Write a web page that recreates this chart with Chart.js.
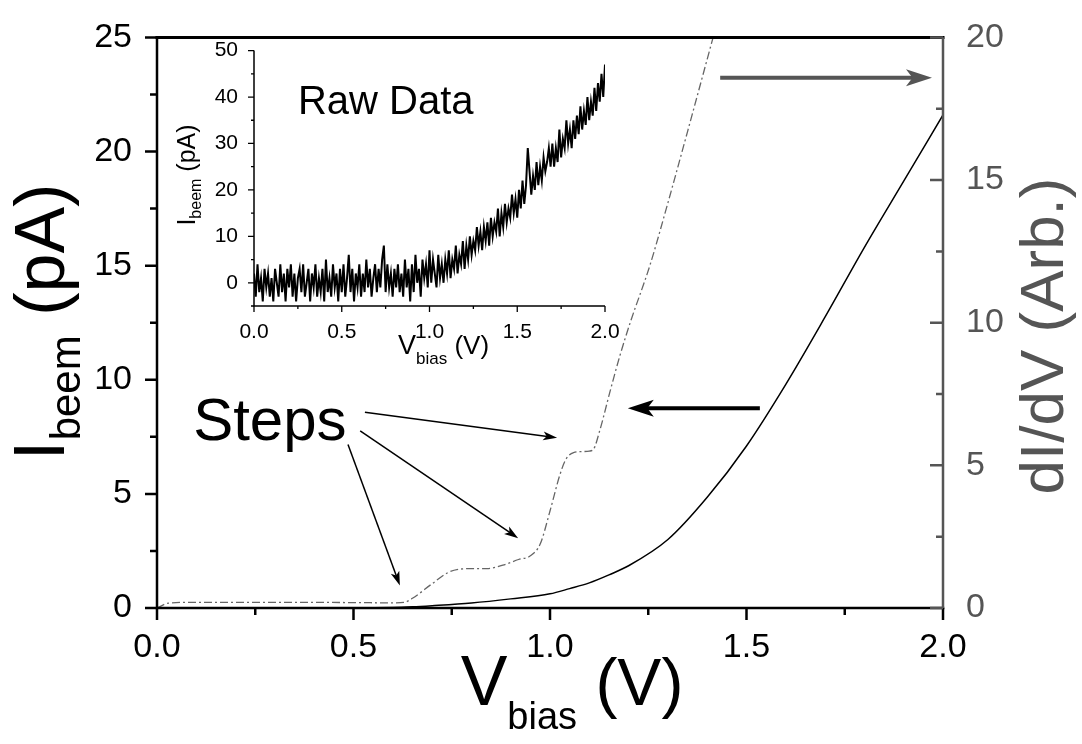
<!DOCTYPE html>
<html>
<head>
<meta charset="utf-8">
<title>BEEM spectrum</title>
<script src="https://cdn.jsdelivr.net/npm/chart.js@4.4.1/dist/chart.umd.min.js"></script>
<style>
  body { margin: 0; background: #fff; }
  #wrap { position: relative; width: 1082px; height: 744px; background: #fff; }
  canvas { position: absolute; }
</style>
</head>
<body>
<div id="wrap">
  <canvas id="mainChart" width="1082" height="744" style="left:0;top:0"></canvas>
  <canvas id="insetChart" width="470" height="350" style="left:160px;top:30px"></canvas>
</div>
<script>
const FONT = '"Liberation Sans", Arial, Helvetica, sans-serif';
Chart.defaults.font.family = FONT;
Chart.defaults.color = '#000';

// Averaged BEEM current (left axis, pA)
const vbias = [0, 0.1, 0.2, 0.3, 0.4, 0.5, 0.6, 0.65, 0.7, 0.8, 0.9, 1.0, 1.05, 1.1, 1.15, 1.2, 1.3, 1.4, 1.5, 1.6, 1.7, 1.8, 1.9, 2.0];
const ibeem = [0, 0, 0, 0, 0, 0.01, 0.02, 0.05, 0.1, 0.22, 0.4, 0.62, 0.85, 1.1, 1.45, 1.85, 3.0, 4.85, 7.1, 9.8, 12.75, 15.8, 18.7, 21.6];

// dI/dV (right axis, arb.)
const vDeriv = [0, 0.03, 0.1, 0.3, 0.5, 0.6, 0.63, 0.65, 0.7, 0.74, 0.77, 0.8, 0.84, 0.88, 0.92, 0.95, 0.975, 1.0, 1.025, 1.04, 1.06, 1.08, 1.1, 1.11, 1.127, 1.153, 1.178, 1.204, 1.254, 1.3, 1.35, 1.415];
const dIdV = [0, 0.17, 0.2, 0.2, 0.19, 0.18, 0.2, 0.34, 0.85, 1.24, 1.36, 1.38, 1.38, 1.5, 1.7, 1.83, 2.24, 3.4, 4.66, 5.2, 5.45, 5.48, 5.5, 5.55, 6.24, 7.6, 8.85, 10.0, 12.0, 14.2, 16.7, 20.0];

// Inset raw trace, one sample every 10 mV from 0 to 2 V (pA)
const rawStepV = 0.01;
const rawCurrent = [
  2, -3, 4, -2, 1, -4, 3, -1, 2, -3,
  1, -4, 3, 0, -3, 4, -2, 2, -4, 3,
  -1, 4, -3, 2, -4, 1, 3, -2, 4, -3,
  0, 3, -4, 2, -1, 4, -3, 1, -2, 3,
  -4, 5, -2, 1, -3, 4, -1, 2, -4, 3,
  -2, 4, -3, 1, 6, -2, 3, -4, 2, -1,
  4, -3, 2, -2, 5, -1, 3, -3, 1, 4,
  -2, 3, -1, 5, 8, -2, 4, -1, 2, -3,
  3, -1, 4, -2, 2, -3, 5, -1, 3, -4,
  4, -2, 6, 0, 3, -3, 5, 1, 4, -1,
  7, 0, 5, 2, -1, 6, 1, 4, 0, 5,
  2, 7, 1, 5, 3, 8, 2, 6, 4, 9,
  3, 8, 5, 10, 6, 9, 7, 12, 8, 11,
  7, 12, 9, 13, 8, 14, 10, 13, 11, 16,
  10, 15, 12, 17, 13, 16, 14, 19, 15, 18,
  14, 20, 16, 22, 17, 21, 29, 24, 19, 23,
  20, 26, 21, 25, 22, 27, 24, 26, 29, 25,
  30, 25, 29, 26, 33, 27, 31, 29, 35, 30,
  33, 29, 35, 31, 36, 32, 38, 33, 37, 34,
  40, 35, 39, 36, 42, 37, 43, 39, 45, 40,
  47
];

// tick labels
const xTickValues = [0, 0.5, 1, 1.5, 2];
const xTickLabels = ['0.0', '0.5', '1.0', '1.5', '2.0'];
const leftTicks = [0, 5, 10, 15, 20, 25];
const rightTicks = [0, 5, 10, 15, 20];
const insetYTicks = [0, 10, 20, 30, 40, 50];

function xLabel(v) {
  const i = xTickValues.indexOf(v);
  return i >= 0 ? xTickLabels[i] : '';
}

// draws text made of parts (for subscripts), centred on cx
function richText(ctx, parts, cx, cy, angle, color) {
  ctx.save();
  ctx.translate(cx, cy);
  ctx.rotate(angle);
  ctx.fillStyle = color;
  ctx.textBaseline = 'alphabetic';
  ctx.textAlign = 'left';
  let total = 0;
  parts.forEach(p => {
    ctx.font = p.size + 'px ' + FONT;
    p.w = ctx.measureText(p.t).width;
    total += p.w;
  });
  let x = -total / 2;
  parts.forEach(p => {
    ctx.font = p.size + 'px ' + FONT;
    ctx.fillText(p.t, x, p.dy || 0);
    x += p.w;
  });
  ctx.restore();
}

function arrow(ctx, x1, y1, x2, y2, w, len, half, color) {
  const a = Math.atan2(y2 - y1, x2 - x1);
  ctx.save();
  ctx.strokeStyle = color;
  ctx.fillStyle = color;
  ctx.lineWidth = w;
  ctx.beginPath();
  ctx.moveTo(x1, y1);
  ctx.lineTo(x2 - Math.cos(a) * len * 0.7, y2 - Math.sin(a) * len * 0.7);
  ctx.stroke();
  ctx.translate(x2, y2);
  ctx.rotate(a);
  ctx.beginPath();
  ctx.moveTo(0, 0);
  ctx.lineTo(-len, -half);
  ctx.lineTo(-len * 0.75, 0);
  ctx.lineTo(-len, half);
  ctx.closePath();
  ctx.fill();
  ctx.restore();
}

// ticks drawn by hand: majors and minors, inward or outward
function drawTicks(ctx, scale, step, isMajor, side, dir, majLen, minLen, color, width) {
  const area = scale.chart.chartArea;
  ctx.save();
  ctx.strokeStyle = color;
  ctx.lineWidth = width;
  ctx.beginPath();
  for (let v = scale.min; v <= scale.max + 1e-9; v += step) {
    const len = isMajor(v) ? majLen : minLen;
    const p = scale.getPixelForValue(v);
    if (side === 'h') {
      ctx.moveTo(p, area.bottom);
      ctx.lineTo(p, area.bottom + dir * len);
    } else {
      const base = scale.position === 'left' ? area.left : area.right;
      ctx.moveTo(base, p);
      ctx.lineTo(base + dir * len, p);
    }
  }
  ctx.stroke();
  ctx.restore();
}

// annotations (data coordinates: V, left axis pA)
const stepArrows = [
  { from: [0.529, 8.58], to: [1.018, 7.46] },
  { from: [0.517, 7.76], to: [0.919, 3.06] },
  { from: [0.486, 7.16], to: [0.618, 0.99] }
];
const axisArrows = [
  { from: [1.534, 8.75], to: [1.198, 8.75], color: '#000' },
  { from: [1.433, 23.23], to: [1.972, 23.23], color: '#555' }
];

const mainDecor = {
  id: 'mainDecor',
  afterDatasetsDraw(chart) {
    const ctx = chart.ctx;
    const a = chart.chartArea;
    const sx = chart.scales.x, sy = chart.scales.y, sr = chart.scales.y2;

    // frame
    ctx.save();
    ctx.lineCap = 'square';
    ctx.strokeStyle = '#000';
    ctx.lineWidth = 2.5;
    ctx.beginPath();
    ctx.moveTo(a.left, a.top); ctx.lineTo(a.left, a.bottom); ctx.lineTo(a.right, a.bottom);
    ctx.stroke();
    ctx.lineWidth = 3;
    ctx.beginPath();
    ctx.moveTo(a.left, a.top); ctx.lineTo(a.right, a.top);
    ctx.stroke();
    ctx.strokeStyle = '#555';
    ctx.lineWidth = 2.5;
    ctx.beginPath();
    ctx.moveTo(a.right, a.top + 1); ctx.lineTo(a.right, a.bottom);
    ctx.stroke();
    ctx.restore();

    drawTicks(ctx, sx, 0.25, v => Math.abs(v * 2 - Math.round(v * 2)) < 1e-6, 'h', 1, 12, 7, '#000', 2.5);
    drawTicks(ctx, sy, 2.5, v => v % 5 === 0, 'v', -1, 12, 7, '#000', 2.5);
    drawTicks(ctx, sr, 2.5, v => v % 5 === 0, 'v', -1, 13, 7, '#555', 2.5);

    // Steps label and arrows
    ctx.save();
    ctx.fillStyle = '#000';
    ctx.font = '60px ' + FONT;
    ctx.textBaseline = 'alphabetic';
    ctx.fillText('Steps', sx.getPixelForValue(0.092), sy.getPixelForValue(7.37));
    ctx.restore();
    stepArrows.forEach(s => arrow(ctx,
      sx.getPixelForValue(s.from[0]), sy.getPixelForValue(s.from[1]),
      sx.getPixelForValue(s.to[0]), sy.getPixelForValue(s.to[1]), 1.5, 14, 4.5, '#000'));
    axisArrows.forEach(s => arrow(ctx,
      sx.getPixelForValue(s.from[0]), sy.getPixelForValue(s.from[1]),
      sx.getPixelForValue(s.to[0]), sy.getPixelForValue(s.to[1]), 4, 26, 8.5, s.color));

    // axis titles
    const cx = (a.left + a.right) / 2;
    richText(ctx, [{ t: 'V', size: 70 }, { t: 'bias', size: 38, dy: 24 }, { t: ' (V)', size: 66 }], cx + 22, 705, 0, '#000');
    richText(ctx, [{ t: 'I', size: 72 }, { t: 'beem', size: 42, dy: 16 }, { t: ' (pA)', size: 70 }], 64, 322, -Math.PI / 2, '#000');
    richText(ctx, [{ t: 'dI/dV (Arb.)', size: 62 }], 1063, 336, -Math.PI / 2, '#555');
  }
};

new Chart(document.getElementById('mainChart'), {
  type: 'line',
  data: {
    datasets: [
      {
        label: 'Ibeem',
        data: vbias.map((v, i) => ({ x: v, y: ibeem[i] })),
        yAxisID: 'y',
        borderColor: '#000',
        borderWidth: 1.5,
        pointRadius: 0,
        cubicInterpolationMode: 'monotone',
        fill: false
      },
      {
        label: 'dI/dV',
        data: vDeriv.map((v, i) => ({ x: v, y: dIdV[i] })),
        yAxisID: 'y2',
        borderColor: '#666',
        borderWidth: 1.3,
        borderDash: [8, 3, 2, 3],
        pointRadius: 0,
        cubicInterpolationMode: 'monotone',
        fill: false
      }
    ]
  },
  options: {
    responsive: false,
    animation: false,
    events: [],
    layout: { padding: { top: 28, left: 0, right: 0, bottom: 0 } },
    plugins: { legend: { display: false }, tooltip: { enabled: false } },
    scales: {
      x: {
        type: 'linear', min: 0, max: 2,
        grid: { display: false }, border: { display: false },
        ticks: { stepSize: 0.25, autoSkip: false, maxRotation: 0, padding: 11, font: { size: 34 }, color: '#000', callback: xLabel },
        afterFit(s) { s.height = 136; }
      },
      y: {
        position: 'left', min: 0, max: 25,
        grid: { display: false }, border: { display: false },
        ticks: { stepSize: 2.5, autoSkip: false, padding: 17, font: { size: 34 }, color: '#000',
          callback: v => leftTicks.includes(v) ? String(v) : '' },
        afterFit(s) { s.width = 157; }
      },
      y2: {
        position: 'right', min: 0, max: 20,
        grid: { display: false }, border: { display: false },
        ticks: { stepSize: 2.5, autoSkip: false, padding: 15, font: { size: 34 }, color: '#555',
          callback: v => rightTicks.includes(v) ? String(v) : '' },
        afterFit(s) { s.width = 139; }
      }
    }
  },
  plugins: [mainDecor]
});

// ---- inset: raw data ----
const insetDecor = {
  id: 'insetDecor',
  afterDatasetsDraw(chart) {
    const ctx = chart.ctx;
    const a = chart.chartArea;
    const sx = chart.scales.x, sy = chart.scales.y;
    ctx.save();
    ctx.strokeStyle = '#000';
    ctx.lineWidth = 1.5;
    ctx.beginPath();
    ctx.moveTo(a.left, a.top); ctx.lineTo(a.left, a.bottom); ctx.lineTo(a.right, a.bottom);
    ctx.stroke();
    ctx.restore();
    drawTicks(ctx, sx, 0.25, v => Math.abs(v * 2 - Math.round(v * 2)) < 1e-6, 'h', 1, 6, 3, '#000', 1.3);
    drawTicks(ctx, sy, 5, v => v % 10 === 0, 'v', -1, 6, 3, '#000', 1.3);

    ctx.save();
    ctx.fillStyle = '#000';
    ctx.font = '40px ' + FONT;
    ctx.fillText('Raw Data', sx.getPixelForValue(0.25), sy.getPixelForValue(36.4));
    ctx.restore();

    richText(ctx, [{ t: 'V', size: 27 }, { t: 'bias', size: 17, dy: 10 }, { t: ' (V)', size: 26 }], (a.left + a.right) / 2 + 14, 324, 0, '#000');
    richText(ctx, [{ t: 'I', size: 25 }, { t: 'beem', size: 16, dy: 6 }, { t: ' (pA)', size: 25 }], 35, 145, -Math.PI / 2, '#000');
  }
};

new Chart(document.getElementById('insetChart'), {
  type: 'line',
  data: {
    datasets: [{
      label: 'raw',
      data: rawCurrent.map((c, i) => ({ x: i * rawStepV, y: c })),
      borderColor: '#000',
      borderWidth: 2,
      pointRadius: 0,
      tension: 0,
      fill: false
    }]
  },
  options: {
    responsive: false,
    animation: false,
    events: [],
    layout: { padding: { top: 19, right: 25, left: 0, bottom: 0 } },
    plugins: { legend: { display: false }, tooltip: { enabled: false } },
    scales: {
      x: {
        type: 'linear', min: 0, max: 2,
        grid: { display: false }, border: { display: false },
        ticks: { stepSize: 0.25, autoSkip: false, maxRotation: 0, padding: 6, font: { size: 21 }, color: '#000', callback: xLabel },
        afterFit(s) { s.height = 74; }
      },
      y: {
        min: -5, max: 50,
        grid: { display: false }, border: { display: false },
        ticks: { stepSize: 5, autoSkip: false, padding: 8, font: { size: 21 }, color: '#000',
          callback: v => insetYTicks.includes(v) ? String(v) : '' },
        afterFit(s) { s.width = 94; }
      }
    }
  },
  plugins: [insetDecor]
});
</script>
</body>
</html>
